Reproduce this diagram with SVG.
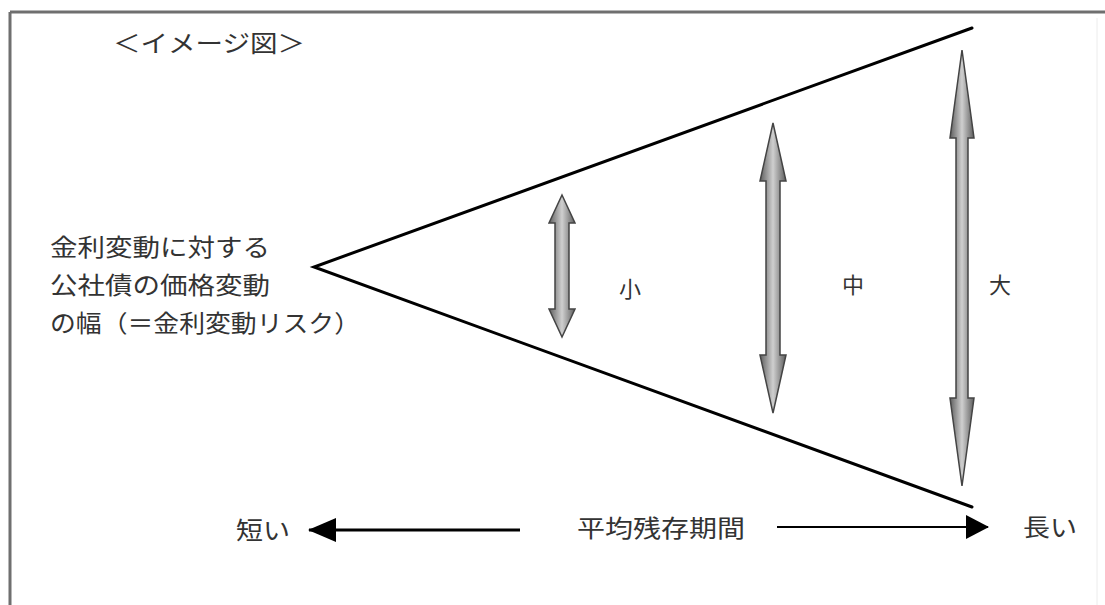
<svg xmlns="http://www.w3.org/2000/svg" width="1105" height="605" viewBox="0 0 1105 605">
  <defs>
    <linearGradient id="g" x1="0" y1="0" x2="1" y2="0">
      <stop offset="0" stop-color="#5e5e5e"/>
      <stop offset="0.5" stop-color="#cfcfcf"/>
      <stop offset="1" stop-color="#5e5e5e"/>
    </linearGradient>
    <marker id="ahL" viewBox="0 0 28 24" refX="27" refY="12" markerWidth="28" markerHeight="24" markerUnits="userSpaceOnUse" orient="auto">
      <path d="M0,0 L28,12 L0,24 Z" fill="#000"/>
    </marker>
    <marker id="ahR" viewBox="0 0 23 24" refX="22" refY="12" markerWidth="23" markerHeight="24" markerUnits="userSpaceOnUse" orient="auto">
      <path d="M0,0 L23,12 L0,24 Z" fill="#000"/>
    </marker>
    <style>
      .t { font-family: "Noto Sans CJK JP", "Noto Sans", sans-serif; font-size: 24px; fill: #333; }
      .lbl { font-family: "Noto Sans CJK JP", sans-serif; font-size: 22px; fill: #333; text-anchor: middle; dominant-baseline: central; }
      .dbl { fill: url(#g); stroke: #444; stroke-width: 1.5; stroke-linejoin: miter; }
      .edge { stroke: #000; stroke-width: 3; fill: none; stroke-linecap: round; }
    </style>
  </defs>
  <rect width="1105" height="605" fill="#fff"/>
  <g id="frame">
    <line x1="10" y1="12" x2="1105" y2="12" stroke="#6f6f6f" stroke-width="3"/>
    <line x1="10" y1="12" x2="10" y2="605" stroke="#6f6f6f" stroke-width="3"/>
    <line x1="1097" y1="18" x2="1097" y2="605" stroke="#ececec" stroke-width="1"/>
  </g>
  <g id="title">
    <text class="t" x="113" y="52" textLength="192" lengthAdjust="spacingAndGlyphs">＜イメージ図＞</text>
  </g>
  <g id="risk-label">
    <text class="t" x="50" y="256" textLength="220" lengthAdjust="spacingAndGlyphs">金利変動に対する</text>
    <text class="t" x="50" y="294" textLength="220" lengthAdjust="spacingAndGlyphs">公社債の価格変動</text>
    <text class="t" x="50" y="332" textLength="310" lengthAdjust="spacingAndGlyphs">の幅（＝金利変動リスク）</text>
  </g>
  <g id="connectors">
    <polyline class="edge" points="972,28 314,267 972,507"/>
    <line x1="520" y1="530" x2="309" y2="530" stroke="#000" stroke-width="3" marker-end="url(#ahL)"/>
    <line x1="777" y1="527" x2="988" y2="527" stroke="#000" stroke-width="2" marker-end="url(#ahR)"/>
  </g>
  <g id="arrow-small">
    <path class="dbl" d="M562,195 L575,223 L569,223 L569,309 L575,309 L562,337 L549,309 L555,309 L555,223 L549,223 Z"/>
    <text class="lbl" x="630" y="287">小</text>
  </g>
  <g id="arrow-medium">
    <path class="dbl" d="M773,123 L786,181 L780,181 L780,355 L786,355 L773,413 L760,355 L766,355 L766,181 L760,181 Z"/>
    <text class="lbl" x="853" y="283">中</text>
  </g>
  <g id="arrow-large">
    <path class="dbl" d="M962,50 L974,138 L968,138 L968,398 L974,398 L962,486 L950,398 L956,398 L956,138 L950,138 Z"/>
    <text class="lbl" x="1000" y="283">大</text>
  </g>
  <g id="axis-labels">
    <text class="t" x="236" y="539" textLength="54" lengthAdjust="spacingAndGlyphs">短い</text>
    <text class="t" x="577" y="537" textLength="168" lengthAdjust="spacingAndGlyphs">平均残存期間</text>
    <text class="t" x="1023" y="536" textLength="54" lengthAdjust="spacingAndGlyphs">長い</text>
  </g>
</svg>
